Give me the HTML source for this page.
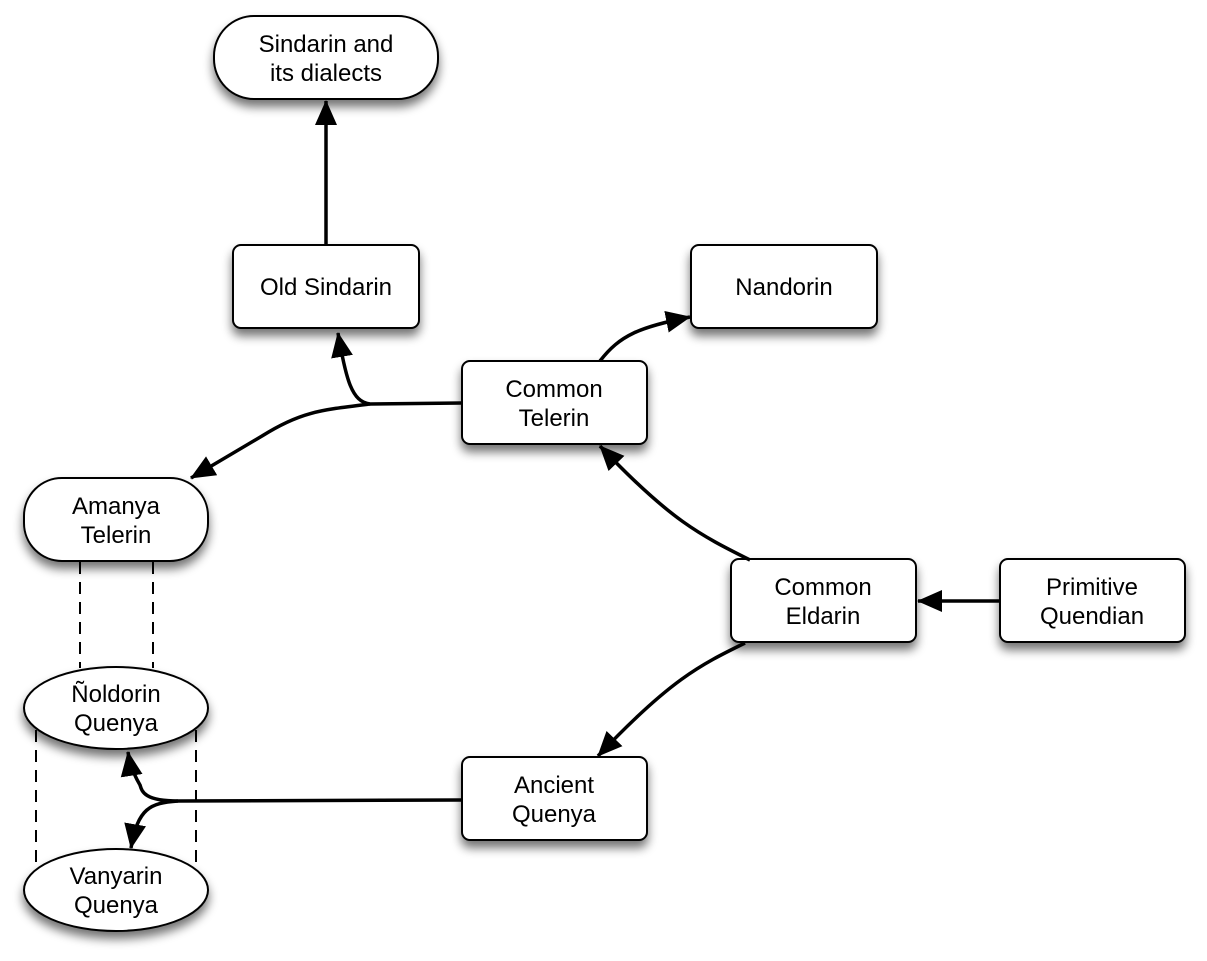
<!DOCTYPE html>
<html><head><meta charset="utf-8"><style>
html,body{margin:0;padding:0;background:#fff;}
svg{display:block;}
text{font-family:"Liberation Sans",Arial,sans-serif;font-size:24px;fill:#000;text-anchor:middle;}
</style></head><body>
<svg width="1207" height="961" viewBox="0 0 1207 961" xmlns="http://www.w3.org/2000/svg">
<defs>
<filter id="sh" x="-30%" y="-30%" width="160%" height="180%">
<feGaussianBlur in="SourceAlpha" stdDeviation="5"/>
<feOffset dx="0" dy="7" result="b"/>
<feComponentTransfer><feFuncA type="linear" slope="0.55"/></feComponentTransfer>
<feMerge><feMergeNode/><feMergeNode in="SourceGraphic"/></feMerge>
</filter>
<marker id="ar" markerUnits="userSpaceOnUse" markerWidth="28" markerHeight="24" refX="24" refY="11" orient="auto">
<path d="M0,0 L25,11 L0,22 Z" fill="#000"/>
</marker>
</defs>
<g fill="#fff" stroke="#000" stroke-width="2" filter="url(#sh)">
<rect x="214" y="16" width="224" height="83" rx="40"/>
<rect x="233" y="245" width="186" height="83" rx="8"/>
<rect x="691" y="245" width="186" height="83" rx="8"/>
<rect x="462" y="361" width="185" height="83" rx="8"/>
<rect x="24" y="478" width="184" height="83" rx="38"/>
<rect x="731" y="559" width="185" height="83" rx="8"/>
<rect x="1000" y="559" width="185" height="83" rx="8"/>
<rect x="462" y="757" width="185" height="83" rx="8"/>
<ellipse cx="116" cy="708" rx="92" ry="41"/>
<ellipse cx="116" cy="890" rx="92" ry="41"/>
</g>
<g stroke="#000" stroke-width="2" stroke-dasharray="12,8" fill="none">
<line x1="80" y1="562" x2="80" y2="668"/>
<line x1="153" y1="562" x2="153" y2="668"/>
<line x1="36" y1="730" x2="36" y2="868"/>
<line x1="196" y1="730" x2="196" y2="868"/>
</g>
<g stroke="#000" stroke-width="3.5" fill="none" marker-end="url(#ar)">
<path d="M326,245 L326,101"/>
<path d="M462,403 L370,404 C352,402 346,380 338,333"/>
<path d="M370,404 C320,410 300,412 262,436 L191,478"/>
<path d="M600,361 C620,335 640,327 690,317"/>
<path d="M750,560 C700,535 670,520 600,446"/>
<path d="M745,643 C700,665 670,680 598,756"/>
<path d="M1000,601 L918,601"/>
<path d="M462,800 L178,801 C145,801 142,792 140,785 C134,775 130,765 128,752"/>
<path d="M178,801 C150,803 138,808 131,848"/>
</g>
<text x="326" y="52">Sindarin and</text>
<text x="326" y="81">its dialects</text>
<text x="326" y="295">Old Sindarin</text>
<text x="784" y="295">Nandorin</text>
<text x="554" y="397">Common</text>
<text x="554" y="426">Telerin</text>
<text x="116" y="514">Amanya</text>
<text x="116" y="543">Telerin</text>
<text x="823" y="595">Common</text>
<text x="823" y="624">Eldarin</text>
<text x="1092" y="595">Primitive</text>
<text x="1092" y="624">Quendian</text>
<text x="554" y="793">Ancient</text>
<text x="554" y="822">Quenya</text>
<text x="116" y="702">Ñoldorin</text>
<text x="116" y="731">Quenya</text>
<text x="116" y="884">Vanyarin</text>
<text x="116" y="913">Quenya</text>
</svg>
</body></html>
